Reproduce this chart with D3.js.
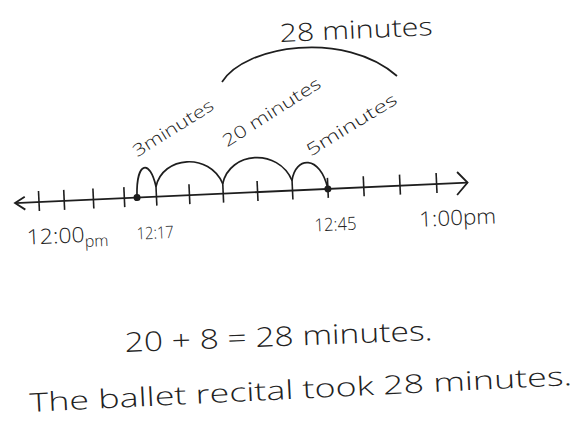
<!DOCTYPE html>
<html>
<head>
<meta charset="utf-8">
<script src="https://cdn.jsdelivr.net/npm/d3@7"></script>
<style>
  html, body { margin: 0; padding: 0; background: #fff; }
  svg { display: block; }
  text { font-family: "Open Sans", "Noto Sans", sans-serif; font-weight: 300; fill: #222; }
</style>
</head>
<body>
<svg width="582" height="428"></svg>
<script>
// number line data, minutes after 12:00
var tickMinutes = [0, 5, 10, 15, 20, 25, 30, 35, 40, 45, 50, 55, 60];
var markedTimes = [17, 45];
var timeLabelAt = [0, 17, 45, 60];
var timeLabels = ["12:00", "12:17", "12:45", "1:00pm"];
var timeSuffix = ["pm", "", "", ""];
// jumps on the line
var hopFrom = [17, 20, 30, 40];
var hopTo = [20, 30, 40, 45];
var hopLabelAt = [17, 30, 42.5];
var hopLabels = ["3minutes", "20 minutes", "5minutes"];
var totalLabel = "28 minutes";
var sumLine = "20 + 8 = 28 minutes.";
var answerLine = "The ballet recital took 28 minutes.";

// styles (hand drawn look)
var ink = "#1e1e1e";
var lineY = 202;
var hopHeight = [27, 30, 31, 25];
var labelSize = [21, 17, 18, 21];
var labelWidth = [58, 37, 42, 77];
var labelDx = [-14, -2, -15, -19];
var hopLabelStyle = [
  {dx: 2, up: 40, len: 92, rot: -29.5},
  {dx: 6, up: 46, len: 113, rot: -30},
  {dx: 2, up: 33, len: 103, rot: -29}
];

var svg = d3.select("svg");

// hand drawn spacing is a bit tighter on the left, so a mild power scale
var x = d3.scalePow().exponent(1.11).domain([0, 60]).range([39, 437]);

var g = svg.append("g")
    .attr("transform", "rotate(-2.6," + x(0) + "," + lineY + ")");

// main line + arrows
g.append("line")
    .attr("x1", x(0) - 24).attr("x2", x(60) + 31)
    .attr("y1", lineY).attr("y2", lineY)
    .attr("stroke", ink).attr("stroke-width", 1.8);
g.append("path")
    .attr("d", "M" + (x(0) - 14) + "," + (lineY - 6) + " L" + (x(0) - 24) + "," + lineY + " L" + (x(0) - 14) + "," + (lineY + 7))
    .attr("fill", "none").attr("stroke", ink).attr("stroke-width", 1.8);
g.append("path")
    .attr("d", "M" + (x(60) + 21) + "," + (lineY - 11) + " L" + (x(60) + 31) + "," + lineY + " L" + (x(60) + 20) + "," + (lineY + 12))
    .attr("fill", "none").attr("stroke", ink).attr("stroke-width", 1.8);

// ticks
g.selectAll(".tick").data(tickMinutes).enter().append("line")
    .attr("class", "tick")
    .attr("x1", function(d) { return x(d); }).attr("x2", function(d) { return x(d); })
    .attr("y1", lineY - 11).attr("y2", lineY + 9)
    .attr("stroke", ink).attr("stroke-width", 1.6);

// jumps
function hopPath(a, b, h) {
  var x0 = x(a), x1 = x(b), w = x1 - x0;
  var narrow = w < 30;
  var y0 = lineY - (markedTimes.indexOf(a) >= 0 ? 2 : 10);
  var y1 = lineY - (markedTimes.indexOf(b) >= 0 ? 0 : 10);
  return "M" + x0 + "," + y0 +
    " C" + (x0 + w * (narrow ? 0.05 : 0.12)) + "," + (lineY - h * 1.35) +
    " " + (x1 - w * (narrow ? 0.25 : 0.18)) + "," + (lineY - h * 1.4) +
    " " + x1 + "," + y1;
}
g.selectAll(".hop").data(hopFrom).enter().append("path")
    .attr("class", "hop")
    .attr("d", function(d, i) { return hopPath(d, hopTo[i], hopHeight[i]); })
    .attr("fill", "none").attr("stroke", ink).attr("stroke-width", 1.7);

// dots at start / end
g.selectAll(".dot").data(markedTimes).enter().append("circle")
    .attr("class", "dot")
    .attr("cx", function(d) { return x(d); }).attr("cy", lineY)
    .attr("r", 3.5).attr("fill", ink);

// time labels
var tl = g.selectAll(".tlabel").data(timeLabelAt).enter().append("text")
    .attr("class", "tlabel")
    .attr("x", function(d, i) { return x(d) + labelDx[i]; })
    .attr("y", lineY + 42)
    .style("font-size", function(d, i) { return labelSize[i] + "px"; });
tl.append("tspan")
    .attr("textLength", function(d, i) { return labelWidth[i]; })
    .attr("lengthAdjust", "spacingAndGlyphs")
    .text(function(d, i) { return timeLabels[i]; });
tl.filter(function(d, i) { return timeSuffix[i] !== ""; })
  .append("tspan")
    .attr("dy", 5)
    .style("font-size", "16px")
    .text(function(d, i) { return timeSuffix[timeLabelAt.indexOf(d)]; });

// labels over the jumps
g.selectAll(".hlabel").data(hopLabelAt).enter().append("text")
    .attr("class", "hlabel")
    .attr("transform", function(d, i) {
      var s = hopLabelStyle[i];
      return "translate(" + (x(d) + s.dx) + "," + (lineY - s.up) + ") rotate(" + s.rot + ")";
    })
    .attr("textLength", function(d, i) { return hopLabelStyle[i].len; })
    .attr("lengthAdjust", "spacingAndGlyphs")
    .style("font-size", "17px")
    .text(function(d, i) { return hopLabels[i]; });

// total bracket on top
svg.append("path")
    .attr("d", "M222,82 C245,45 345,30 397,76")
    .attr("fill", "none").attr("stroke", ink).attr("stroke-width", 1.7);
svg.append("text")
    .attr("transform", "translate(280,42) rotate(-2.6)")
    .attr("textLength", 153).attr("lengthAdjust", "spacingAndGlyphs")
    .style("font-size", "25px")
    .text(totalLabel);

// sentences
svg.append("text")
    .attr("transform", "translate(125,352) rotate(-2.2)")
    .attr("textLength", 308).attr("lengthAdjust", "spacingAndGlyphs")
    .style("font-size", "27px")
    .text(sumLine);
svg.append("text")
    .attr("transform", "translate(30,412) rotate(-2.85)")
    .attr("textLength", 543).attr("lengthAdjust", "spacingAndGlyphs")
    .style("font-size", "26px")
    .text(answerLine);
</script>
</body>
</html>
